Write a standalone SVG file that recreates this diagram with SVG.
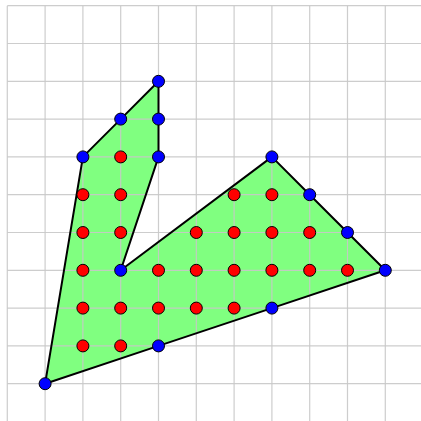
<svg xmlns="http://www.w3.org/2000/svg" width="421" height="421" viewBox="0 0 421 421">
<style>
.g{stroke:#c8c8c8;stroke-width:1.2;fill:none}
.b{fill:#0000ff;stroke:#000;stroke-width:1}
.r{fill:#ff0000;stroke:#000;stroke-width:1}
</style>
<defs>
<polygon id="shape" points="45.1,383.7 82.9,156.9 120.7,119.1 158.5,81.3 158.5,119.1 158.5,156.9 120.7,270.3 271.9,156.9 309.7,194.7 347.5,232.5 385.3,270.3 271.9,308.1 158.5,345.9"/>
</defs>
<rect width="421" height="421" fill="#fff"/>
<use id="fill" href="#shape" fill="#80ff80" stroke="none"/>
<g id="grid" class="g" stroke-opacity="0.9">
<path d="M7.3 5.7V421M45.1 5.7V421M82.9 5.7V421M120.7 5.7V421M158.5 5.7V421M196.3 5.7V421M234.1 5.7V421M271.9 5.7V421M309.7 5.7V421M347.5 5.7V421M385.3 5.7V421"/>
<path d="M7.3 5.7H421M7.3 43.5H421M7.3 81.3H421M7.3 119.1H421M7.3 156.9H421M7.3 194.7H421M7.3 232.5H421M7.3 270.3H421M7.3 308.1H421M7.3 345.9H421M7.3 383.7H421"/>
</g>
<use id="outline" href="#shape" fill="none" stroke="#000" stroke-width="2" stroke-linejoin="round"/>
<g id="interior">
<circle class="r" cx="120.7" cy="156.9" r="6"/>
<circle class="r" cx="82.9" cy="194.7" r="6"/>
<circle class="r" cx="120.7" cy="194.7" r="6"/>
<circle class="r" cx="234.1" cy="194.7" r="6"/>
<circle class="r" cx="271.9" cy="194.7" r="6"/>
<circle class="r" cx="82.9" cy="232.5" r="6"/>
<circle class="r" cx="120.7" cy="232.5" r="6"/>
<circle class="r" cx="196.3" cy="232.5" r="6"/>
<circle class="r" cx="234.1" cy="232.5" r="6"/>
<circle class="r" cx="271.9" cy="232.5" r="6"/>
<circle class="r" cx="309.7" cy="232.5" r="6"/>
<circle class="r" cx="82.9" cy="270.3" r="6"/>
<circle class="r" cx="158.5" cy="270.3" r="6"/>
<circle class="r" cx="196.3" cy="270.3" r="6"/>
<circle class="r" cx="234.1" cy="270.3" r="6"/>
<circle class="r" cx="271.9" cy="270.3" r="6"/>
<circle class="r" cx="309.7" cy="270.3" r="6"/>
<circle class="r" cx="347.5" cy="270.3" r="6"/>
<circle class="r" cx="82.9" cy="308.1" r="6"/>
<circle class="r" cx="120.7" cy="308.1" r="6"/>
<circle class="r" cx="158.5" cy="308.1" r="6"/>
<circle class="r" cx="196.3" cy="308.1" r="6"/>
<circle class="r" cx="234.1" cy="308.1" r="6"/>
<circle class="r" cx="82.9" cy="345.9" r="6"/>
<circle class="r" cx="120.7" cy="345.9" r="6"/>
</g>
<g id="boundary">
<circle class="b" cx="45.1" cy="383.7" r="6"/>
<circle class="b" cx="82.9" cy="156.9" r="6"/>
<circle class="b" cx="120.7" cy="119.1" r="6"/>
<circle class="b" cx="158.5" cy="81.3" r="6"/>
<circle class="b" cx="158.5" cy="119.1" r="6"/>
<circle class="b" cx="158.5" cy="156.9" r="6"/>
<circle class="b" cx="120.7" cy="270.3" r="6"/>
<circle class="b" cx="271.9" cy="156.9" r="6"/>
<circle class="b" cx="309.7" cy="194.7" r="6"/>
<circle class="b" cx="347.5" cy="232.5" r="6"/>
<circle class="b" cx="385.3" cy="270.3" r="6"/>
<circle class="b" cx="271.9" cy="308.1" r="6"/>
<circle class="b" cx="158.5" cy="345.9" r="6"/>
</g>
</svg>
